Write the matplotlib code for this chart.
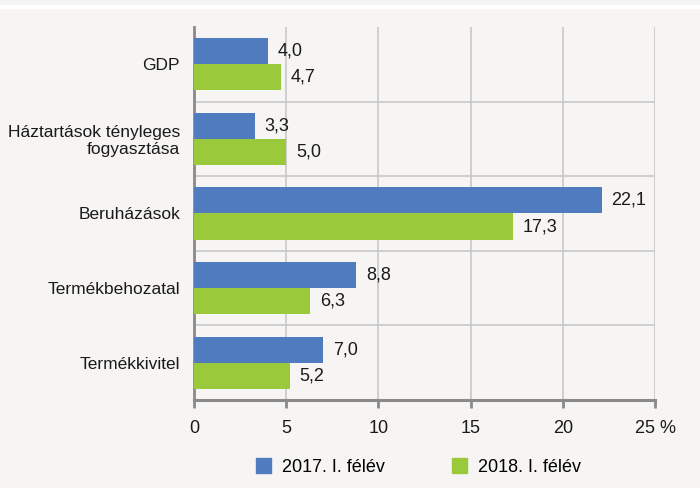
import numpy as np
import matplotlib.pyplot as plt
from matplotlib.lines import Line2D
from matplotlib.patches import Patch

plt.rcParams['font.family'] = ['Liberation Sans', 'DejaVu Sans']

categories = ['GDP', 'Háztartások tényleges\nfogyasztása', 'Beruházások',
              'Termékbehozatal', 'Termékkivitel']
values_2017 = [4.0, 3.3, 22.1, 8.8, 7.0]
values_2018 = [4.7, 5.0, 17.3, 6.3, 5.2]
series_names = ['2017. I. félév', '2018. I. félév']
xticks = [0, 5, 10, 15, 20, 25]
xticklabels = ['0', '5', '10', '15', '20', '25 %']

blue = '#517bbf'
green = '#9bc93c'
bg = '#f6f5f3'
fs = 12.5

fig = plt.figure(figsize=(7, 4.88), dpi=100, facecolor=bg)
ax = fig.add_axes([0.277, 0.18, 0.659, 0.765], facecolor=bg)

# white line across the top
fig.add_artist(Line2D([0, 1], [0.986, 0.986], color='white', lw=3, transform=fig.transFigure))

y = np.arange(len(categories))
h = 0.35
b1 = ax.barh(y - h / 2, values_2017, height=h, color=blue, zorder=3)
b2 = ax.barh(y + h / 2, values_2018, height=h, color=green, zorder=3)

for bars, vals in ((b1, values_2017), (b2, values_2018)):
    for bar, v in zip(bars, vals):
        ax.annotate(f'{v:.1f}'.replace('.', ','),
                    (v, bar.get_y() + bar.get_height() / 2),
                    xytext=(7, 0), textcoords='offset points',
                    va='center', ha='left', fontsize=fs + 0.5, color='#1a1a1a')

ax.set_ylim(len(categories) - 0.5, -0.5)
ax.set_xlim(0, 25)
ax.set_yticks(y)
ax.set_yticklabels(categories, fontsize=fs, color='#1a1a1a', linespacing=1.15)
ax.set_xticks(xticks)
ax.set_xticklabels(xticklabels, fontsize=fs + 0.5, color='#1a1a1a')
ax.tick_params(axis='y', length=0, pad=10)
ax.tick_params(axis='x', length=6, width=2, color='#8a8a8a', pad=8, direction='out')

# grid lines
for xv in xticks[1:]:
    ax.axvline(xv, color='#c8c8c8', lw=1.2, zorder=1)
for yv in np.arange(0.5, len(categories) - 1, 1):
    ax.axhline(yv, color='#c8c8c8', lw=1.2, zorder=1)

for s in ('top', 'right'):
    ax.spines[s].set_visible(False)
ax.spines['left'].set_color('#8a8a8a')
ax.spines['left'].set_linewidth(2)
ax.spines['bottom'].set_color('#8a8a8a')
ax.spines['bottom'].set_linewidth(2.2)

handles = [Patch(color=blue), Patch(color=green)]
fig.legend(handles, series_names, loc='center', bbox_to_anchor=(0.598, 0.043),
           ncol=2, frameon=False, fontsize=fs + 0.5, handlelength=0.85, handleheight=0.85,
           columnspacing=3.7, handletextpad=0.6)

fig.savefig('out.png', dpi=100, facecolor=bg)
